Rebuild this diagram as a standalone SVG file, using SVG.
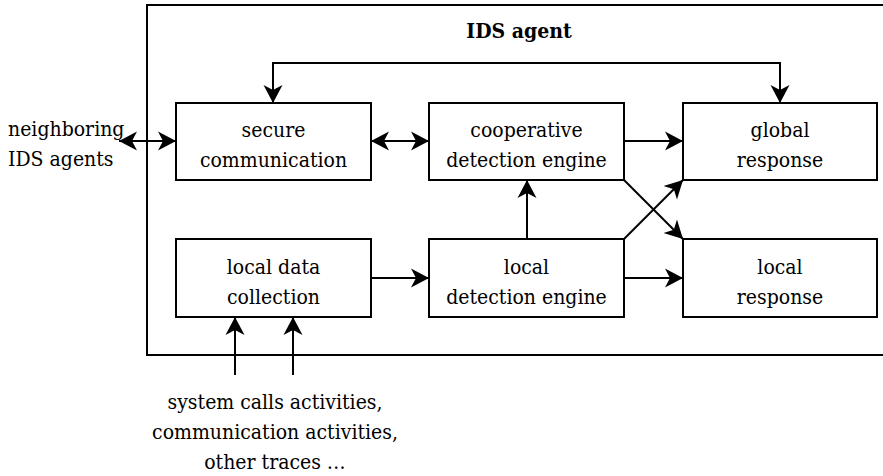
<svg xmlns="http://www.w3.org/2000/svg" width="883" height="476" viewBox="0 0 883 476">
  <style>
    .box { fill: #ffffff; stroke: #000000; stroke-width: 2; }
    .frame { fill: none; stroke: #000000; stroke-width: 2; }
    .wire { fill: none; stroke: #000000; stroke-width: 2; }
    text { font-family: "DejaVu Serif Condensed", "DejaVu Serif", serif; font-stretch: condensed; font-size: 21px; fill: #000000; }
    .c { text-anchor: middle; }
    .title { font-weight: bold; font-size: 21px; }
  </style>
  <defs>
    <marker id="head" markerUnits="userSpaceOnUse" markerWidth="22" markerHeight="22" viewBox="-20 -11 22 22" refX="0" refY="0" orient="auto-start-reverse">
      <path d="M0,0 L-18,-9.5 L-13,0 L-18,9.5 Z" fill="#000000"/>
    </marker>
  </defs>

  <rect id="frame" x="147" y="5" width="760" height="350" class="frame"/>
  <text class="title c" x="519" y="38">IDS agent</text>

  <g id="connectors">
    <path class="wire" d="M119,141 L176,141" marker-start="url(#head)" marker-end="url(#head)"/>
    <path class="wire" d="M371,141 L429,141" marker-start="url(#head)" marker-end="url(#head)"/>
    <path class="wire" d="M273,103 L273,63 L780,63 L780,103" marker-start="url(#head)" marker-end="url(#head)"/>
    <path class="wire" d="M624,141 L683,141" marker-end="url(#head)"/>
    <path class="wire" d="M371,278 L429,278" marker-end="url(#head)"/>
    <path class="wire" d="M624,278 L683,278" marker-end="url(#head)"/>
    <path class="wire" d="M527,239 L527,180" marker-end="url(#head)"/>
    <path class="wire" d="M624,180 L683,239" marker-end="url(#head)"/>
    <path class="wire" d="M624,239 L683,180" marker-end="url(#head)"/>
    <path class="wire" d="M235,375 L235,317" marker-end="url(#head)"/>
    <path class="wire" d="M293,375 L293,317" marker-end="url(#head)"/>
  </g>

  <g id="secure-communication">
    <rect class="box" x="176" y="103" width="195" height="77"/>
    <text class="c" x="273.5" y="137">secure</text>
    <text class="c" x="273.5" y="167">communication</text>
  </g>
  <g id="cooperative-detection-engine">
    <rect class="box" x="429" y="103" width="195" height="77"/>
    <text class="c" x="526.5" y="137">cooperative</text>
    <text class="c" x="526.5" y="167">detection engine</text>
  </g>
  <g id="global-response">
    <rect class="box" x="683" y="103" width="194" height="77"/>
    <text class="c" x="780" y="137">global</text>
    <text class="c" x="780" y="167">response</text>
  </g>
  <g id="local-data-collection">
    <rect class="box" x="176" y="239" width="195" height="78"/>
    <text class="c" x="273.5" y="274">local data</text>
    <text class="c" x="273.5" y="304">collection</text>
  </g>
  <g id="local-detection-engine">
    <rect class="box" x="429" y="239" width="195" height="78"/>
    <text class="c" x="526.5" y="274">local</text>
    <text class="c" x="526.5" y="304">detection engine</text>
  </g>
  <g id="local-response">
    <rect class="box" x="683" y="239" width="194" height="78"/>
    <text class="c" x="780" y="274">local</text>
    <text class="c" x="780" y="304">response</text>
  </g>

  <g id="neighbors-label">
    <text x="8" y="136">neighboring</text>
    <text x="8" y="166">IDS agents</text>
  </g>
  <g id="inputs-label">
    <text class="c" x="275" y="409">system calls activities,</text>
    <text class="c" x="275" y="439">communication activities,</text>
    <text class="c" x="275" y="469">other traces …</text>
  </g>
</svg>
